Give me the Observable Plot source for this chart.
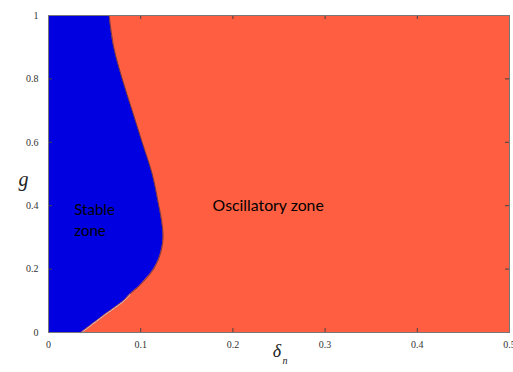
<!DOCTYPE html>
<html>
<head>
<meta charset="utf-8">
<script src="https://cdn.jsdelivr.net/npm/d3@7"></script>
<script src="https://cdn.jsdelivr.net/npm/@observablehq/plot@0.6"></script>
<style>
  html, body { margin: 0; padding: 0; background: #fff; }
  #chart svg { display: block; }
</style>
</head>
<body>
<div id="chart"></div>
<script>
// Stability boundary: for each gain g, the largest δn that is still stable
const gValues     = [0, 0.05, 0.10, 0.12, 0.15, 0.20, 0.25, 0.30, 0.35, 0.40, 0.50, 0.60, 0.70, 0.80, 0.90, 1.00];
const deltaBound  = [0.0355, 0.058, 0.0815, 0.088, 0.0995, 0.114, 0.1215, 0.1242, 0.1228, 0.1197, 0.1125, 0.1016, 0.0908, 0.080, 0.0708, 0.0658];

const xTicks = [0, 0.1, 0.2, 0.3, 0.4, 0.5];
const yTicks = [0, 0.2, 0.4, 0.6, 0.8, 1];

const zoneLabels = [
  {text: "Stable\nzone", delta: 0.028, g: 0.358, size: 15},
  {text: "Oscillatory zone", delta: 0.178, g: 0.405, size: 15.8}
];

const boundary = gValues.map((g, i) => ({g, delta: deltaBound[i]}));
const lowEdge = boundary.filter(d => d.g <= 0.12);

const W = 513, H = 372;
const margin = {top: 15, right: 4, bottom: 40, left: 48};
const innerW = W - margin.left - margin.right;
const innerH = H - margin.top - margin.bottom;
const tickLen = 4;
const serif = "'Liberation Serif', 'DejaVu Serif', serif";
const fmt = d => String(d);

const chart = Plot.plot({
  width: W,
  height: H,
  marginTop: margin.top,
  marginRight: margin.right,
  marginBottom: margin.bottom,
  marginLeft: margin.left,
  style: {background: "#fff", fontFamily: serif},
  x: {domain: [0, 0.5]},
  y: {domain: [0, 1]},
  marks: [
    // oscillatory region fills the whole frame
    Plot.frame({fill: "#ff5f40"}),
    // stable region between δn = 0 and the boundary
    Plot.areaX(boundary, {y: "g", x1: 0, x2: "delta", fill: "#0000e0", curve: "catmull-rom"}),
    Plot.lineX(boundary, {y: "g", x: "delta", stroke: "#3a2a40", strokeWidth: 0.7, curve: "catmull-rom"}),
    Plot.lineX(lowEdge, {y: "g", x: "delta", stroke: "#d8d8d8", strokeWidth: 0.9, dx: 0.5, curve: "catmull-rom"}),
    // inward ticks on all four sides
    Plot.tickX(xTicks, {x: d => d, stroke: "#444", insetTop: innerH - tickLen}),
    Plot.tickX(xTicks, {x: d => d, stroke: "#444", insetBottom: innerH - tickLen}),
    Plot.tickY(yTicks, {y: d => d, stroke: "#444", insetRight: innerW - tickLen}),
    Plot.tickY(yTicks, {y: d => d, stroke: "#444", insetLeft: innerW - tickLen}),
    Plot.frame({stroke: "#777", strokeWidth: 1}),
    Plot.axisX(xTicks, {tickSize: 0, tickPadding: 8, tickFormat: fmt, fontSize: 10, fontFamily: serif, fill: "#333", label: null}),
    Plot.axisY(yTicks, {tickSize: 0, tickPadding: 10, tickFormat: fmt, fontSize: 10, fontFamily: serif, fill: "#333", label: null}),
    // zone names
    Plot.text(zoneLabels, {
      x: "delta", y: "g", text: "text", fontSize: "size", textAnchor: "start", lineAnchor: "middle",
      fontFamily: "Lato, 'Open Sans', sans-serif", fill: "#000", lineHeight: 1.4
    }),
    // axis titles
    Plot.text(["g"], {frameAnchor: "left", dx: -30, dy: 6, fontFamily: serif,
      fontStyle: "italic", fontSize: 20, fill: "#222"}),
    Plot.text(["δ"], {frameAnchor: "bottom", dy: 24, dx: -2, fontFamily: serif,
      fontStyle: "italic", fontSize: 18, fill: "#222"}),
    Plot.text(["n"], {frameAnchor: "bottom", dy: 31, dx: 6, fontFamily: serif,
      fontStyle: "italic", fontSize: 10, fill: "#222"})
  ]
});

document.getElementById("chart").appendChild(chart);
</script>
</body>
</html>
